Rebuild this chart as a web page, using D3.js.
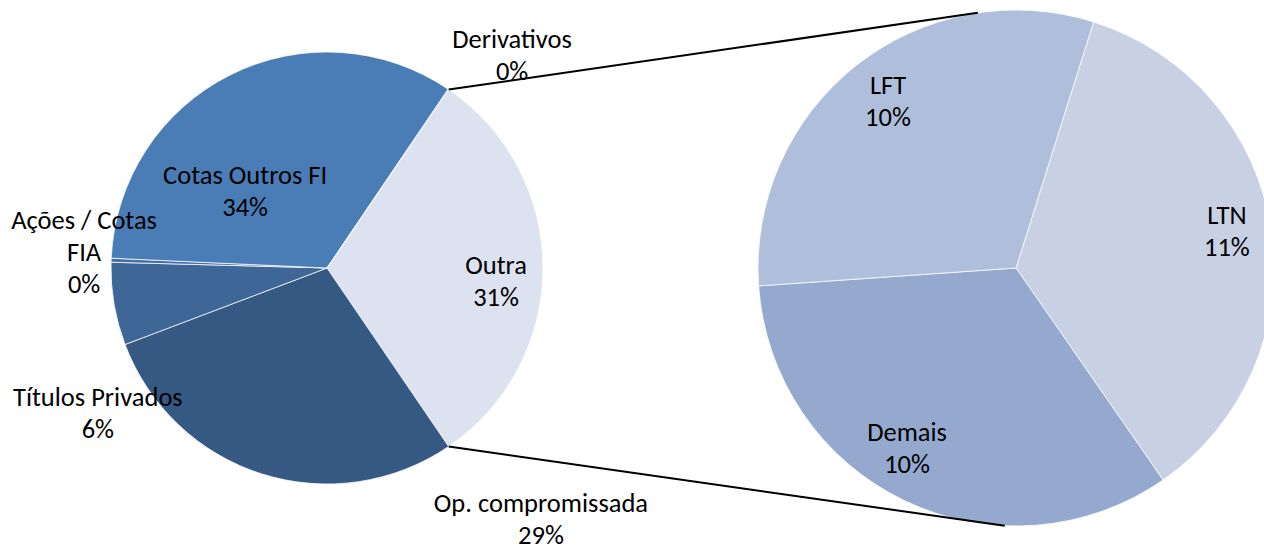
<!DOCTYPE html>
<html>
<head>
<meta charset="utf-8">
<script src="https://cdn.jsdelivr.net/npm/d3@7"></script>
<style>
  body { margin: 0; background: #fff; }
  text { font-family: Calibri, Carlito, Lato, sans-serif; font-size: 26.5px; fill: #000; }
</style>
</head>
<body>
<svg id="chart" width="1264" height="546"></svg>
<script>
'use strict';

// Main pie, clockwise starting with the slice that is split out
var main_labels = ['Outra', 'Op. compromissada', 'Títulos Privados', 'Ações / Cotas FIA', 'Cotas Outros FI', 'Derivativos'];
var main_values = [null, 28.8, 6.2, 0.3, 33.8, 0.05]; // Outra = sum of the detail pie
var main_colours = ['#dce2ef', '#365983', '#3e6798', '#4470a8', '#4a7cb5', '#4a7cb5'];

// Secondary pie, breakdown of "Outra"
var detail_labels = ['LTN', 'Demais', 'LFT'];
var detail_values = [11.0, 10.4, 9.6];
var detail_colours = ['#c8d0e4', '#95a9cf', '#afbfdb'];

// Label lines for multi-line labels
var label_lines = {
	'Ações / Cotas FIA': ['Ações / Cotas', 'FIA'],
	'Op. compromissada': ['Op. compromissada']
};

// Label placement: [angle in degrees from 12 o'clock, distance as a fraction of the radius]
var main_label_pos = {
	'Outra': [94.4, 0.785],
	'Op. compromissada': [139.5, 1.525],
	'Títulos Privados': [237.7, 1.255],
	'Ações / Cotas FIA': [273.8, 1.127],
	'Cotas Outros FI': [313.2, 0.52],
	'Derivativos': [41, 1.306]
};
var detail_label_pos = {
	'LTN': [80, 0.83],
	'Demais': [211.2, 0.815],
	'LFT': [322.5, 0.815]
};

var svg = d3.select('#chart');
var rad = Math.PI / 180;
var line_height = 32;

main_values[0] = d3.sum(detail_values);
var total = d3.sum(main_values);

var main_pie = { cx: 327, cy: 268, r: 216 };
var detail_pie = { cx: 1016, cy: 268, r: 258 };

function polar(p, angle, k) {
	return [p.cx + k * p.r * Math.sin(angle * rad), p.cy - k * p.r * Math.cos(angle * rad)];
}

function pct(v) {
	return Math.round(v / total * 100) + '%';
}

//===============================================================
// Main pie, with the split slice centred at 3 o'clock
//===============================================================
var outra_span = main_values[0] / total * 360;
var main_start = 90 - outra_span / 2;

var main_data = main_labels.map(function(l, i) {
	return { label: l, value: main_values[i], colour: main_colours[i] };
});
var main_arcs = d3.pie()
	.sort(null)
	.value(function(d) { return d.value; })
	.startAngle(main_start * rad)
	.endAngle((main_start + 360) * rad)(main_data);

var arc_main = d3.arc().innerRadius(0).outerRadius(main_pie.r);

svg.append('g')
	.attr('transform', 'translate(' + main_pie.cx + ',' + main_pie.cy + ')')
	.selectAll('path')
	.data(main_arcs)
	.enter().append('path')
	.attr('d', arc_main)
	.attr('fill', function(d) { return d.data.colour; })
	.attr('stroke', '#fff')
	.attr('stroke-width', 0.75);

//===============================================================
// Detail pie
//===============================================================
var detail_start = 17.5;
var detail_data = detail_labels.map(function(l, i) {
	return { label: l, value: detail_values[i], colour: detail_colours[i] };
});
var detail_arcs = d3.pie()
	.sort(null)
	.value(function(d) { return d.value; })
	.startAngle(detail_start * rad)
	.endAngle((detail_start + 360) * rad)(detail_data);

var arc_detail = d3.arc().innerRadius(0).outerRadius(detail_pie.r);

svg.append('g')
	.attr('transform', 'translate(' + detail_pie.cx + ',' + detail_pie.cy + ')')
	.selectAll('path')
	.data(detail_arcs)
	.enter().append('path')
	.attr('d', arc_detail)
	.attr('fill', function(d) { return d.data.colour; })
	.attr('stroke', '#fff')
	.attr('stroke-width', 0.75);

//===============================================================
// Connector lines from the split slice to the detail pie
//===============================================================
var outra = main_arcs[0];
var connectors = [
	[polar(main_pie, outra.startAngle / rad, 1), polar(detail_pie, -8.5, 1)],
	[polar(main_pie, outra.endAngle / rad, 1), polar(detail_pie, 182.5, 1)]
];
svg.selectAll('line.connector')
	.data(connectors)
	.enter().append('line')
	.attr('class', 'connector')
	.attr('x1', function(d) { return d[0][0]; })
	.attr('y1', function(d) { return d[0][1]; })
	.attr('x2', function(d) { return d[1][0]; })
	.attr('y2', function(d) { return d[1][1]; })
	.attr('stroke', '#000')
	.attr('stroke-width', 2);

//===============================================================
// Labels
//===============================================================
function drawLabel(pie, pos, d) {
	var lines = (label_lines[d.label] || [d.label]).concat([pct(d.value)]);
	var c = polar(pie, pos[0], pos[1]);
	var top = c[1] - (lines.length - 1) * line_height / 2;
	var t = svg.append('text')
		.attr('text-anchor', 'middle');
	lines.forEach(function(s, i) {
		t.append('tspan')
			.attr('x', c[0])
			.attr('y', top + i * line_height)
			.attr('dy', '0.35em')
			.text(s);
	});
}

main_data.forEach(function(d) { drawLabel(main_pie, main_label_pos[d.label], d); });
detail_data.forEach(function(d) { drawLabel(detail_pie, detail_label_pos[d.label], d); });
</script>
</body>
</html>
